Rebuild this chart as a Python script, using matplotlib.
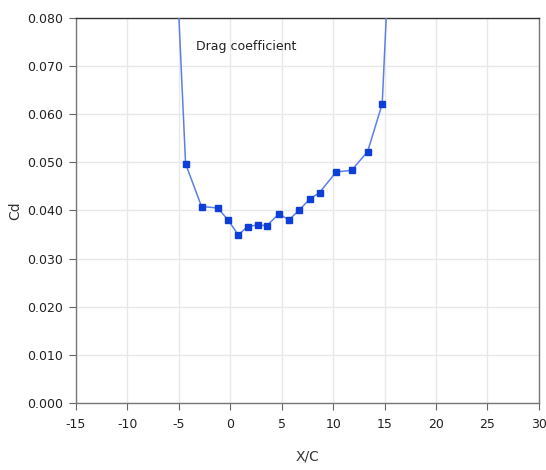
import matplotlib
matplotlib.use("Agg")
from matplotlib import pyplot as plt
import numpy as np

# measured points (x/c, Cd); first and last lie above the plotted range
xc = [-5.2, -4.34, -2.79, -1.23, -0.2, 0.77, 1.68, 2.66, 3.56, 4.73, 5.70,
      6.67, 7.71, 8.68, 10.3, 11.79, 13.35, 14.77, 15.4]
cd = [0.090, 0.0497, 0.0408, 0.0405, 0.0380, 0.0349, 0.0366, 0.0370, 0.0368,
      0.0393, 0.0380, 0.0400, 0.0423, 0.0437, 0.0480, 0.0483, 0.0522, 0.0621, 0.091]

xticks = np.arange(-15, 31, 5)
yticks = np.arange(0, 0.0801, 0.01)

plt.rcParams['font.family'] = ['DejaVu Sans']
plt.rcParams['axes.unicode_minus'] = False

fig = plt.figure(figsize=(5.46, 4.70), dpi=100)
ax = fig.add_axes([0.139, 0.1426, 0.848, 0.8196])

ax.plot(xc, cd, color='#5a80e8', lw=1.1, zorder=3)
ax.plot(xc[1:-1], cd[1:-1], ls='none', marker='s', ms=4.8, color='#0d3fd8', zorder=4)

ax.set_xlim(-15, 30)
ax.set_ylim(0, 0.080)
ax.set_xticks(xticks)
ax.set_yticks(yticks)
ax.set_yticklabels(['%.3f' % v for v in yticks])
ax.grid(True, color='#e8e8e8', lw=1)
ax.set_axisbelow(True)
ax.tick_params(direction='out', length=5, pad=6, colors='#666666', labelcolor='#222222', labelsize=9)
ax.tick_params(axis='y', pad=4)

for s in ax.spines.values():
    s.set_color('#777777')
    s.set_linewidth(1)
ax.spines['top'].set_color('#333333')

ax.text(-3.3, 0.0740, 'Drag coefficient', fontsize=9, color='#222222', va='center')
ax.set_xlabel('X/C', fontsize=10, color='#333333', labelpad=13)
ax.set_ylabel('Cd', fontsize=10, color='#333333', labelpad=4)

fig.savefig('out.png', dpi=100)
